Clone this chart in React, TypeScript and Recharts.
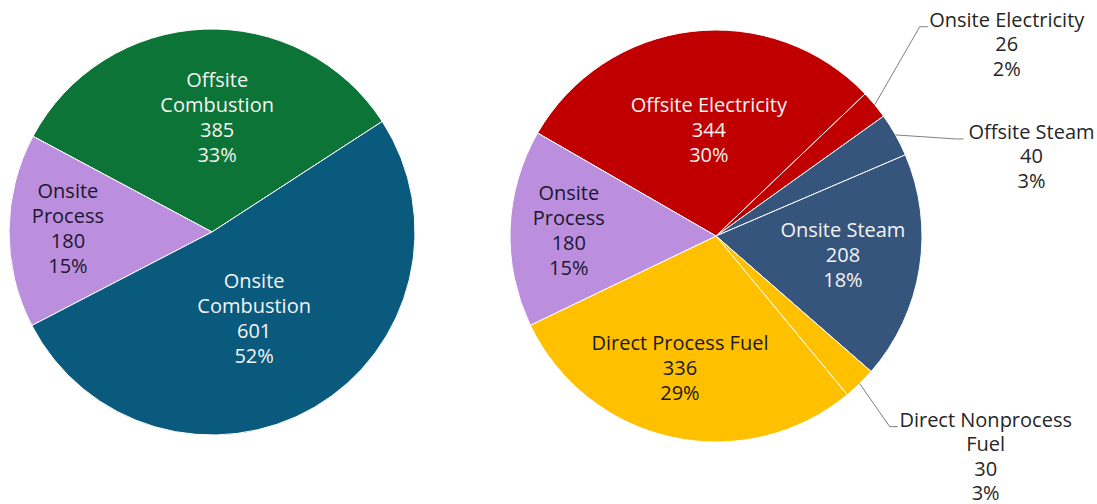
import React from 'react';
import { PieChart, Pie, Cell } from 'recharts';

// ---- Data ----
const leftCategories = ['Offsite Combustion', 'Onsite Process', 'Onsite Combustion'];
const leftValues = [385, 180, 601];
const leftLabelLines = [['Offsite', 'Combustion'], ['Onsite', 'Process'], ['Onsite', 'Combustion']];

const rightCategories = [
  'Offsite Electricity',
  'Onsite Electricity',
  'Offsite Steam',
  'Onsite Steam',
  'Direct Nonprocess Fuel',
  'Direct Process Fuel',
  'Onsite Process',
];
const rightValues = [344, 26, 40, 208, 30, 336, 180];
const rightLabelLines = [
  ['Offsite Electricity'],
  ['Onsite Electricity'],
  ['Offsite Steam'],
  ['Onsite Steam'],
  ['Direct Nonprocess', 'Fuel'],
  ['Direct Process Fuel'],
  ['Onsite', 'Process'],
];

// ---- Styles ----
const leftColors = ['#0b7436', '#bb8fdd', '#0a5a7e'];
const rightColors = ['#c00000', '#c00000', '#36557d', '#36557d', '#ffc000', '#ffc000', '#bb8fdd'];
const leftTextColors = ['#f4f4f4', '#1c1630', '#f4f4f4'];
const rightTextColors = ['#f4f4f4', '#262626', '#262626', '#f4f4f4', '#262626', '#1a1a1a', '#1c1630'];

type Place =
  | { kind: 'in'; rf: number; da: number }
  | { kind: 'out'; dx: number; dy: number; tx: number };

const leftPlace: Place[] = [
  { kind: 'in', rf: 0.565, da: -5 },
  { kind: 'in', rf: 0.71, da: -1.2 },
  { kind: 'in', rf: 0.47, da: -4 },
];
const rightPlace: Place[] = [
  { kind: 'in', rf: 0.52, da: -3 },
  { kind: 'out', dx: 45, dy: -78, tx: 87 },
  { kind: 'out', dx: 60, dy: 4, tx: 76 },
  { kind: 'in', rf: 0.623, da: 0.5 },
  { kind: 'out', dx: 30, dy: 43, tx: 96 },
  { kind: 'in', rf: 0.66, da: -3 },
  { kind: 'in', rf: 0.715, da: 0 },
];

const FONT = "'Open Sans', sans-serif";
const FS = 20;
const LH = 25;
const LH_OUT = 24.5;
const RAD = Math.PI / 180;

const leftData = leftCategories.map((name, i) => ({ name, value: leftValues[i] }));
const rightData = rightCategories.map((name, i) => ({ name, value: rightValues[i] }));

function polar(cx: number, cy: number, r: number, angle: number) {
  return [cx + r * Math.cos(-angle * RAD), cy + r * Math.sin(-angle * RAD)];
}

function makeLabel(lines: string[][], places: Place[], colors: string[]) {
  return (props: any) => {
    const { cx, cy, midAngle, outerRadius, value, percent, index } = props;
    const place = places[index];
    const texts = [...lines[index], String(value), `${Math.round(percent * 100)}%`];
    if (place.kind === 'in') {
      const [x, y] = polar(cx, cy, outerRadius * place.rf, midAngle + place.da);
      const y0 = y - ((texts.length - 1) * LH) / 2;
      return (
        <g>
          {texts.map((t, i) => (
            <text
              key={i}
              x={x}
              y={y0 + i * LH}
              textAnchor="middle"
              dominantBaseline="central"
              fill={colors[index]}
              fontFamily={FONT}
              fontSize={FS}
            >
              {t}
            </text>
          ))}
        </g>
      );
    }
    const [ex, ey] = polar(cx, cy, outerRadius, midAngle);
    const bx = ex + place.dx;
    const by = ey + place.dy;
    const tailX = bx + 8;
    const tcx = bx + place.tx;
    return (
      <g>
        <path d={`M${ex},${ey}L${bx},${by}L${tailX},${by}`} stroke="#7f7f7f" strokeWidth={1} fill="none" />
        {texts.map((t, i) => (
          <text
            key={i}
            x={tcx}
            y={by + i * LH_OUT}
            textAnchor="middle"
            fill={colors[index]}
            fontFamily={FONT}
            fontSize={FS}
          >
            {t}
          </text>
        ))}
      </g>
    );
  };
}

export default function App() {
  return (
    <div style={{ position: 'absolute', left: 0, top: 0, background: '#fff' }}>
      <PieChart width={1097} height={504} margin={{ top: 0, right: 0, bottom: 0, left: 0 }}>
        <Pie
          data={leftData}
          dataKey="value"
          nameKey="name"
          cx={212}
          cy={232}
          outerRadius={203}
          startAngle={33}
          endAngle={393}
          stroke="#ffffff"
          strokeWidth={1}
          isAnimationActive={false}
          labelLine={false}
          label={makeLabel(leftLabelLines, leftPlace, leftTextColors)}
        >
          {leftData.map((d, i) => (
            <Cell key={d.name} fill={leftColors[i]} />
          ))}
        </Pie>
        <Pie
          data={rightData}
          dataKey="value"
          nameKey="name"
          cx={716}
          cy={236}
          outerRadius={206}
          startAngle={150}
          endAngle={-210}
          stroke="#ffffff"
          strokeWidth={1}
          isAnimationActive={false}
          labelLine={false}
          label={makeLabel(rightLabelLines, rightPlace, rightTextColors)}
        >
          {rightData.map((d, i) => (
            <Cell key={d.name} fill={rightColors[i]} />
          ))}
        </Pie>
      </PieChart>
    </div>
  );
}
